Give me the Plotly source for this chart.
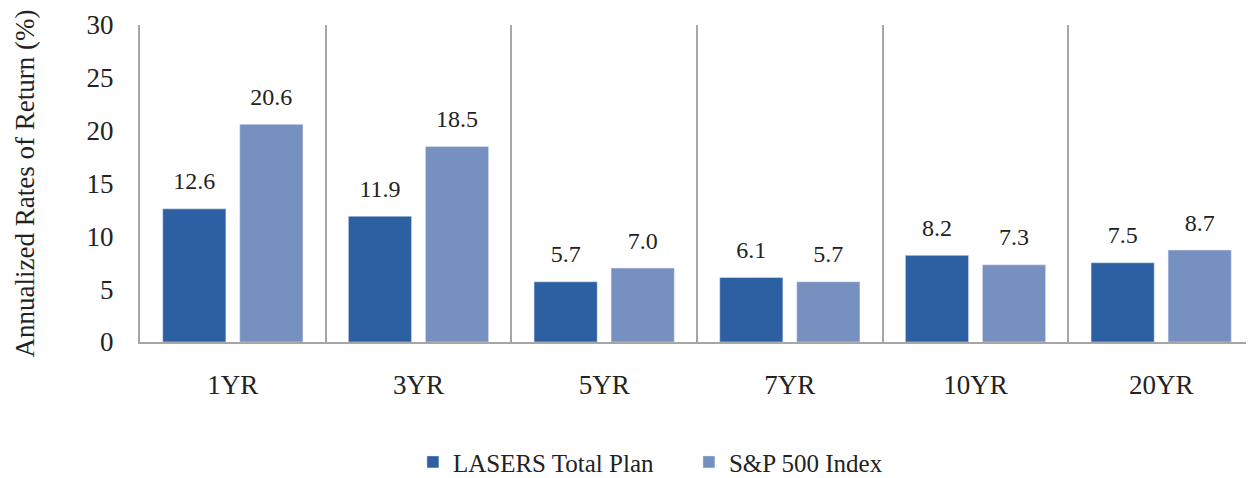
import plotly.graph_objects as go

periods = ["1YR", "3YR", "5YR", "7YR", "10YR", "20YR"]
lasers = [12.6, 11.9, 5.7, 6.1, 8.2, 7.5]
sp500 = [20.6, 18.5, 7.0, 5.7, 7.3, 8.7]

serif = "Liberation Serif, Times New Roman, serif"
series = [
    ("LASERS Total Plan", lasers, "#2C60A2", "a"),
    ("S&P 500 Index", sp500, "#7690C0", "b"),
]

fig = go.Figure()
for name, vals, color, grp in series:
    fig.add_trace(go.Bar(
        x=periods, y=vals, name=name, offsetgroup=grp,
        marker=dict(color=color), cliponaxis=False,
    ))
# value labels sit a little above each bar, like the original
for name, vals, color, grp in series:
    fig.add_trace(go.Scatter(
        x=periods, y=vals, offsetgroup=grp, mode="markers+text",
        marker=dict(size=20, opacity=0), showlegend=False, hoverinfo="skip",
        text=[f"{v:.1f}" for v in vals], textposition="top center",
        textfont=dict(family=serif, size=24, color="#222222"), cliponaxis=False,
    ))

fig.update_layout(
    width=1246, height=478,
    margin=dict(l=132, r=0, t=17, b=144),
    plot_bgcolor="white", paper_bgcolor="white",
    font=dict(family=serif, size=24, color="#222222"),
    barmode="group", bargap=0.17, bargroupgap=0.18,
    scattermode="group", scattergap=0.17,
    showlegend=True,
    legend=dict(orientation="h", x=0.245, xanchor="left", y=-0.379, yanchor="middle",
                font=dict(family=serif, size=25, color="#222222"),
                itemwidth=30, entrywidth=231, traceorder="normal"),
)
fig.update_xaxes(
    showline=True, linecolor="#A6A6A6", linewidth=2,
    showgrid=True, gridcolor="#A6A6A6", gridwidth=1.5, tickson="boundaries",
    ticks="", ticklabelstandoff=18, tickfont=dict(family=serif, size=27),
)
fig.update_yaxes(
    range=[0, 30], dtick=5, showgrid=False, zeroline=False,
    showline=True, linecolor="#A6A6A6", linewidth=2,
    ticks="", ticklabelstandoff=19, tickfont=dict(family=serif, size=27),
    title=dict(text="Annualized Rates of Return (%)",
               font=dict(family=serif, size=27), standoff=44),
)

fig.write_html("out.html")
